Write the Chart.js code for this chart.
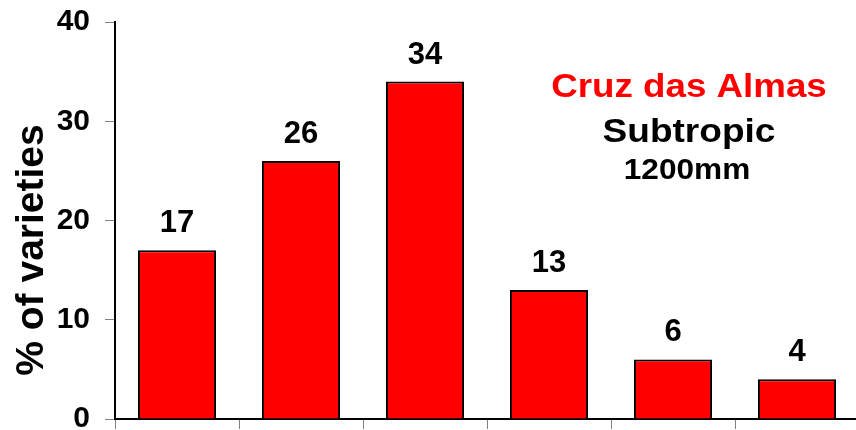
<!DOCTYPE html>
<html>
<head>
<meta charset="utf-8">
<script src="https://cdn.jsdelivr.net/npm/chart.js@4/dist/chart.umd.min.js"></script>
<style>
  html, body { margin: 0; padding: 0; background: #fff; overflow: hidden; }
  canvas { display: block; }
</style>
</head>
<body>
<canvas id="chart" width="862" height="440"></canvas>
<script>
const categories = ["1", "2", "3", "4", "5", "6"];
const percentValues = [17, 26, 34, 13, 6, 4];
const yTicks = [0, 10, 20, 30, 40];
const yTitle = "% of varieties";
const noteLines = ["Cruz das Almas", "Subtropic", "1200mm"];

const FONT = "'Liberation Sans', Arial, Helvetica, sans-serif";

function wideText(ctx, text, x, y, stretch) {
  ctx.save();
  ctx.translate(x, y);
  ctx.scale(stretch, 1);
  ctx.fillText(text, 0, 0);
  ctx.restore();
}

const overlay = {
  id: "overlay",
  afterDatasetsDraw(chart) {
    const ctx = chart.ctx;
    const meta = chart.getDatasetMeta(0);
    ctx.save();
    ctx.fillStyle = "#000";
    ctx.textAlign = "center";
    ctx.textBaseline = "alphabetic";
    ctx.font = "bold 31px " + FONT;
    meta.data.forEach((bar, i) => {
      ctx.fillText(String(percentValues[i]), bar.x, bar.y - 18);
    });

    // axis title
    ctx.save();
    ctx.translate(32, 250);
    ctx.rotate(-Math.PI / 2);
    ctx.textBaseline = "middle";
    ctx.font = "bold 39px " + FONT;
    ctx.fillText(yTitle, 0, 0);
    ctx.restore();

    // note
    ctx.textBaseline = "middle";
    ctx.fillStyle = "#ff0000";
    ctx.font = "bold 34px " + FONT;
    wideText(ctx, noteLines[0], 689, 88, 1.08);
    ctx.fillStyle = "#000";
    ctx.font = "bold 34px " + FONT;
    wideText(ctx, noteLines[1], 689, 133, 1.09);
    ctx.font = "bold 29px " + FONT;
    wideText(ctx, noteLines[2], 687, 171, 1.09);
    ctx.restore();
  },
};

new Chart(document.getElementById("chart"), {
  type: "bar",
  data: {
    labels: categories,
    datasets: [
      {
        data: percentValues,
        backgroundColor: "#ff0000",
        borderColor: "#000",
        borderWidth: 2,
        categoryPercentage: 1,
        barPercentage: 0.63,
      },
    ],
  },
  options: {
    responsive: false,
    animation: false,
    devicePixelRatio: 1,
    layout: { padding: { top: 22, right: 3, left: 0, bottom: 0 } },
    scales: {
      x: {
        grid: {
          offset: true,
          drawOnChartArea: false,
          drawTicks: true,
          tickLength: 10,
          color: "#808080",
        },
        border: { display: true, color: "#000", width: 2 },
        ticks: { display: false },
        afterFit(scale) {
          scale.height = 20;
        },
      },
      y: {
        min: 0,
        max: 40,
        afterBuildTicks(scale) {
          scale.ticks = yTicks.map((v) => ({ value: v }));
        },
        grid: {
          drawOnChartArea: false,
          drawTicks: true,
          tickLength: 10,
          color: "#808080",
        },
        border: { display: true, color: "#000", width: 2 },
        ticks: {
          color: "#000",
          padding: 15,
          font: { family: FONT, size: 30, weight: "bold", lineHeight: 0.4 },
        },
        afterFit(scale) {
          scale.width = 115;
        },
      },
    },
    plugins: {
      legend: { display: false },
      tooltip: { enabled: false },
    },
  },
  plugins: [overlay],
});
</script>
</body>
</html>
